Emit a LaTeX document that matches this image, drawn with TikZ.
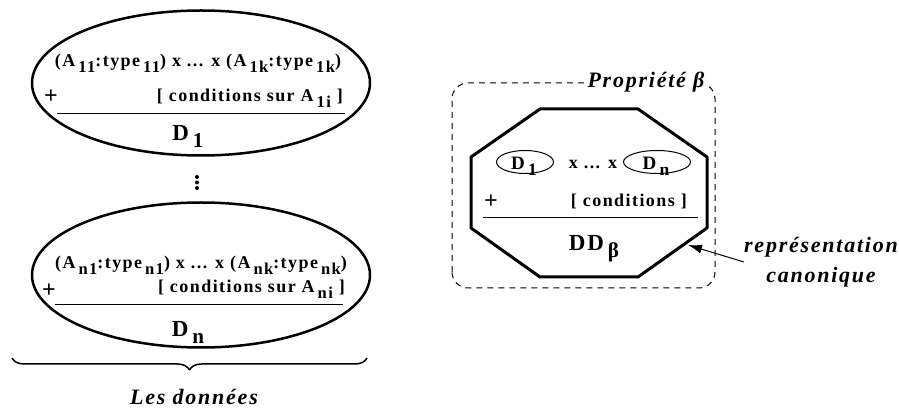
\documentclass[tikz,border=0pt]{standalone}
\usepackage{fontspec}
\setmainfont{Liberation Serif}[LetterSpace=8]
\usetikzlibrary{arrows.meta,shapes.geometric,decorations.pathreplacing}
\newcommand{\idx}[1]{\,\raisebox{-0.3em}{\scalebox{0.92}{#1}}}
\tikzset{
  txt/.style={inner sep=0pt,anchor=base,font=\fontsize{18bp}{20bp}\selectfont\bfseries},
  plus/.style={inner sep=0pt,anchor=base,font=\fontsize{24bp}{24bp}\selectfont\bfseries},
  bigtxt/.style={inner sep=0pt,anchor=base,font=\fontsize{23bp}{25bp}\selectfont\bfseries},
  lbl/.style={inner sep=0pt,anchor=base,font=\fontsize{22bp}{30bp}\selectfont\bfseries\itshape},
  dataell/.style={draw,ellipse,line width=2.5bp,minimum width=338bp,minimum height=145bp},
  smallell/.style={draw,ellipse,line width=1bp,minimum width=#1,minimum height=23bp,inner sep=0pt},
}
\begin{document}
\begin{tikzpicture}[>=latex,line join=bevel,]
\useasboundingbox (0,0) rectangle (899bp,410bp);
%% left: the data
  \node (ell1) at (201bp,327bp) [dataell] {};
  \node (type1) at (198bp,343bp) [txt] {(A\idx{11}:type\idx{11}) x ... x (A\idx{1k}:type\idx{1k})};
  \node (plus1) at (51bp,306bp) [plus] {+};
  \node (cond1) at (343bp,308bp) [txt,anchor=base east] {[ conditions sur A\idx{1i} ]};
  \draw [line width=1bp] (57bp,296bp) -- (345bp,296bp);
  \node (name1) at (188bp,269bp) [bigtxt] {D\idx{1}};
  \foreach \y in {233,227.5,222} \fill (197bp,\y bp) circle (2bp);
  \node (elln) at (201bp,135bp) [dataell] {};
  \node (typen) at (201bp,141bp) [txt] {(A\idx{n1}:type\idx{n1}) x ... x (A\idx{nk}:type\idx{nk})};
  \node (plusn) at (49bp,112bp) [plus] {+};
  \node (condn) at (345bp,117bp) [txt,anchor=base east] {[ conditions sur A\idx{ni} ]};
  \draw [line width=1bp] (55bp,105bp) -- (343bp,105bp);
  \node (namen) at (188bp,73bp) [bigtxt] {D\idx{n}};
  \coordinate (bl) at (12bp,52bp);
  \coordinate (br) at (367bp,52bp);
  \draw [decorate,decoration={brace,mirror,amplitude=12bp},line width=1.5bp] (bl) -- (br);
  \node (data) at (194bp,6bp) [lbl] {Les données};
%% right: the property
  \draw [dashed,dash pattern=on 6bp off 5bp,rounded corners=16bp,line width=1bp] (452bp,122bp) rectangle (715bp,327bp);
  \node (prop) at (646bp,322bp) [lbl,fill=white,inner sep=2bp] {Propriété β};
  \draw [line width=3bp] (540bp,301bp) -- (638bp,301bp) -- (707bp,253bp) -- (707bp,182bp)
    -- (638bp,133bp) -- (540bp,133bp) -- (471bp,182bp) -- (471bp,253bp) -- cycle;
  \node (e1) at (525bp,248bp) [smallell=57bp] {};
  \node (e1t) at (524bp,240bp) [txt,font=\fontsize{19bp}{20bp}\selectfont\bfseries] {D\idx{1}};
  \node (en) at (657bp,248bp) [smallell=67bp] {};
  \node (ent) at (656bp,240bp) [txt,font=\fontsize{19bp}{20bp}\selectfont\bfseries] {D\idx{n}};
  \node (prod) at (593bp,241bp) [txt] {x ... x};
  \node (plusb) at (491bp,201bp) [plus] {+};
  \node (condb) at (687bp,203bp) [txt,anchor=base east] {[ conditions ]};
  \draw [line width=1bp] (483bp,192bp) -- (698bp,192bp);
  \node (ddb) at (594bp,159bp) [bigtxt] {DD\idx{β}};
  \coordinate (tip) at (688bp,165bp);
  \node (canon) at (821bp,148bp) [lbl,anchor=center,align=center] {représentation\\canonique};
  \draw [-{Latex[length=14bp,width=9bp]},line width=1bp] (canon.west) -- (tip);
%
\end{tikzpicture}
\end{document}
